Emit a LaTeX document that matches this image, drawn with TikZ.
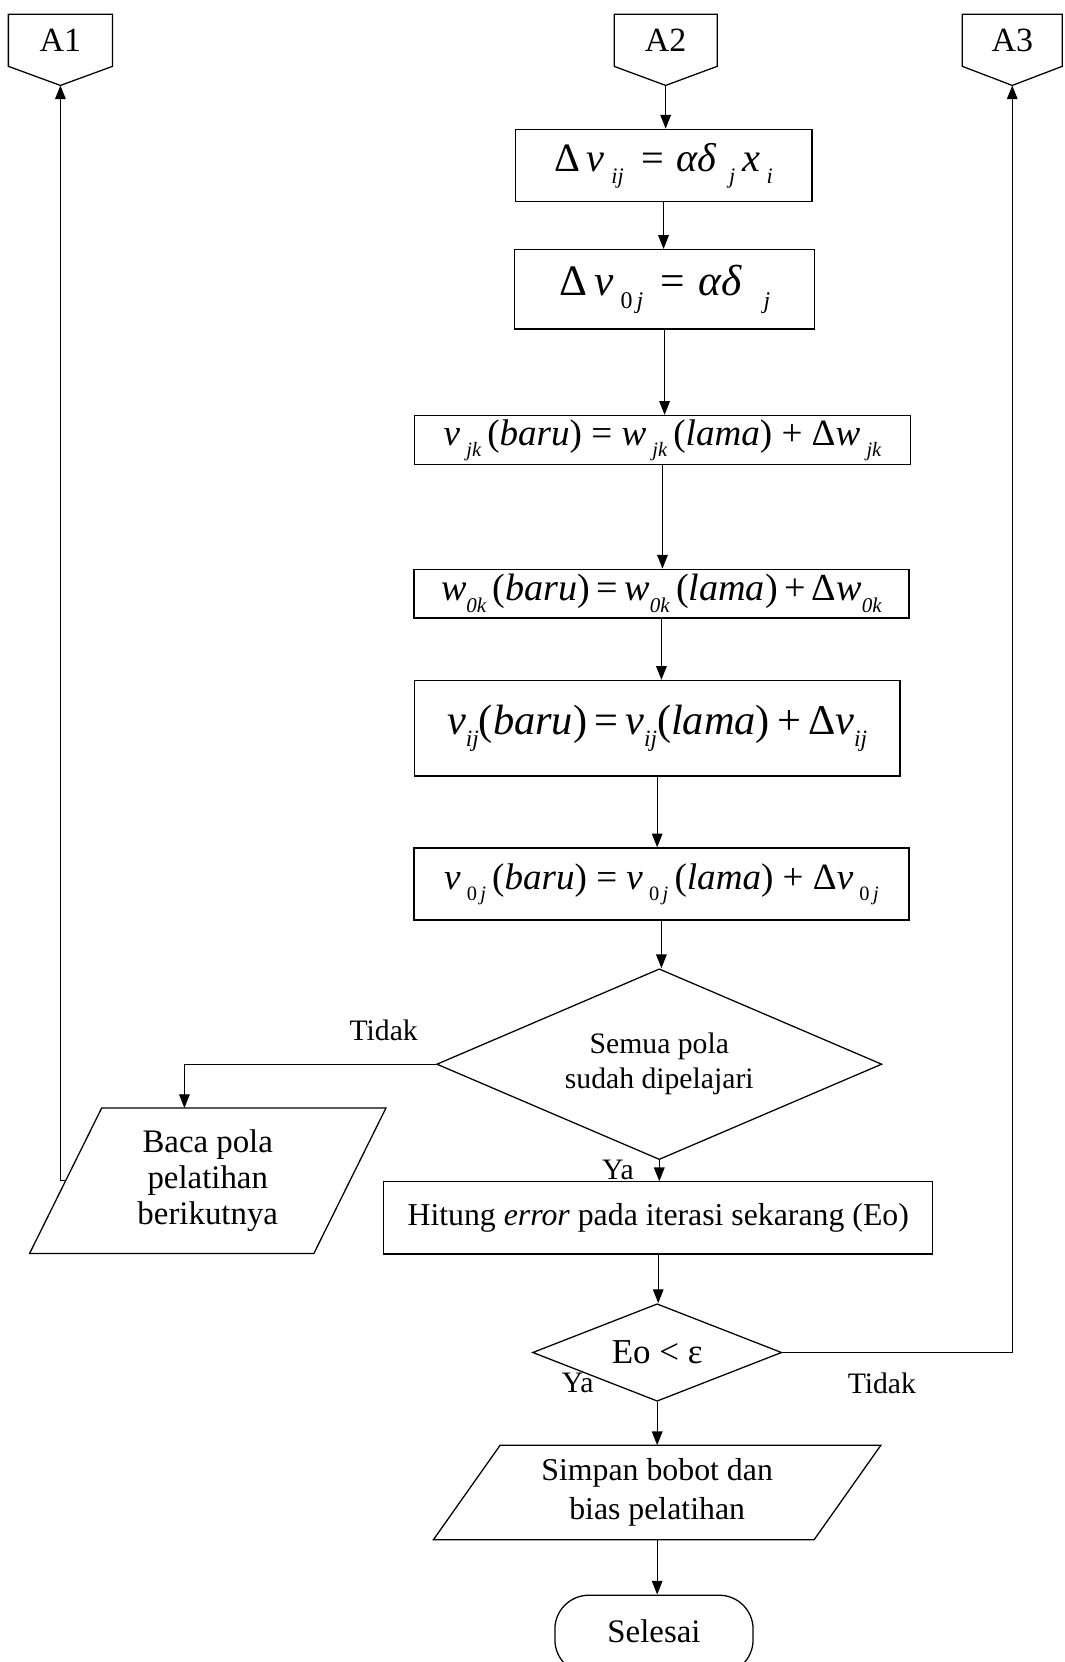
\documentclass[tikz,border=0pt]{standalone}
\usepackage{fontspec}
\setmainfont{Liberation Serif}
\usepackage{graphicx}
\usetikzlibrary{arrows.meta,shapes.geometric,calc}
\newcommand\sbx[1]{\raisebox{-0.3em}{\scalebox{0.55}{\itshape #1}}}
\newcommand\iv[1]{\textit{#1}}
\begin{document}
\begin{tikzpicture}[x=1pt,y=-1pt,
  line width=1.2pt,
  arr/.style={-{Triangle[length=13pt,width=10pt]}},
  pbox/.style={draw, rectangle, inner sep=0pt},
  conn/.style={rectangle, inner sep=0pt, minimum height=48pt, font=\fontsize{32}{34}\selectfont},
  dia/.style={draw, diamond, inner sep=0pt, align=center, font=\fontsize{28}{33}\selectfont},
  paratext/.style={rectangle, inner sep=0pt, align=center},
  lbl/.style={inner sep=0pt, font=\fontsize{28}{32}\selectfont}
]
\useasboundingbox (0,0) rectangle (1004,1568);

% off-page connectors
\node[conn, minimum width=97pt] (a1) at (57,38) {A1};
\coordinate (a1tip) at ($(a1.south)+(0,18)$);
\draw (a1.south east) -- (a1.north east) -- (a1.north west) -- (a1.south west) -- (a1tip) -- cycle;
\node[conn, minimum width=96pt] (a2) at (628,38) {A2};
\coordinate (a2tip) at ($(a2.south)+(0,18)$);
\draw (a2.south east) -- (a2.north east) -- (a2.north west) -- (a2.south west) -- (a2tip) -- cycle;
\node[conn, minimum width=93pt] (a3) at (955,38) {A3};
\coordinate (a3tip) at ($(a3.south)+(0,18)$);
\draw (a3.south east) -- (a3.north east) -- (a3.north west) -- (a3.south west) -- (a3tip) -- cycle;

% process boxes
\node[pbox, minimum width=280pt, minimum height=68pt] (b1) at (626,156)
  {\fontsize{38}{40}\selectfont Δ\,\iv{v}\,\sbx{ij}\hspace{0.45em}=\hspace{0.3em}\iv{αδ}\hspace{0.3em}\sbx{j}\,\iv{x}\,\sbx{i}};
\node[pbox, minimum width=283pt, minimum height=75pt] (b2) at (627,273)
  {\fontsize{41}{44}\selectfont Δ\,\iv{v}\,\sbx{{\upshape 0}\,j}\hspace{0.4em}=\hspace{0.3em}\iv{αδ}\hspace{0.5em}\sbx{j}};
\node[pbox, minimum width=468pt, minimum height=46pt] (b3) at (625,415)
  {\fontsize{35}{38}\selectfont \iv{v}\,\sbx{jk}\,(\iv{baru}) = \iv{w}\,\sbx{jk}\,(\iv{lama}) + Δ\iv{w}\,\sbx{jk}};
\node[pbox, minimum width=467pt, minimum height=46pt] (b4) at (624,560)
  {\fontsize{36}{38}\selectfont \iv{w}\sbx{0k}\,(\iv{baru})\,=\,\iv{w}\sbx{0k}\,(\iv{lama})\,+\,Δ\iv{w}\sbx{0k}};
\node[pbox, minimum width=458pt, minimum height=90pt] (b5) at (620,687)
  {\fontsize{40}{42}\selectfont \iv{v}\sbx{ij}(\iv{baru})\,=\,\iv{v}\sbx{ij}(\iv{lama})\,+\,Δ\iv{v}\sbx{ij}};
\node[pbox, minimum width=467pt, minimum height=68pt] (b6) at (624,834)
  {\fontsize{35}{38}\selectfont \iv{v}\,\sbx{{\upshape 0}\,j}\,(\iv{baru}) = \iv{v}\,\sbx{{\upshape 0}\,j}\,(\iv{lama}) + Δ\iv{v}\,\sbx{{\upshape 0}\,j}};

% decision 1
\node[dia, aspect=2.33, minimum width=420pt, minimum height=180pt] (d1) at (622,1004) {Semua pola\\sudah dipelajari};

% read next pattern (parallelogram)
\node[paratext, minimum width=335pt, minimum height=136pt, font=\fontsize{31}{34}\selectfont] (p1) at (196,1114)
  {Baca pola\\pelatihan\\berikutnya};
\draw (p1.south west) -- ($(p1.north west)+(68,0)$) -- (p1.north east) -- ($(p1.south east)-(68,0)$) -- cycle;
\coordinate (p1l) at ($(p1.west)+(34,0)$);

% compute error
\node[pbox, minimum width=518pt, minimum height=68pt, font=\fontsize{30}{33}\selectfont] (b7) at (621,1149)
  {Hitung \textit{error} pada iterasi sekarang (Eo)};

% decision 2
\node[dia, aspect=2.55, minimum width=235pt, minimum height=92pt, font=\fontsize{33}{35}\selectfont] (d2) at (620,1276) {Eo < ε};

% save (parallelogram)
\node[paratext, minimum width=421pt, minimum height=88pt, font=\fontsize{30}{37}\selectfont] (p2) at (620,1408)
  {Simpan bobot dan\\bias pelatihan};
\draw (p2.south west) -- ($(p2.north west)+(63,0)$) -- (p2.north east) -- ($(p2.south east)-(63,0)$) -- cycle;

% terminal
\node[draw, rectangle, rounded corners=32pt, minimum width=187pt, minimum height=74pt,
      inner sep=0pt, font=\fontsize{31}{34}\selectfont] (s) at (617,1542)
  {\raisebox{7pt}{Selesai}};

% connectors
\draw[arr] (a2tip) -- (a2tip |- b1.north);
\draw[arr] (b1.south) -- (b1.south |- b2.north);
\draw[arr] (b2.south) -- (b2.south |- b3.north);
\draw[arr] (b3.south) -- (b3.south |- b4.north);
\draw[arr] (b4.south) -- (b4.south |- b5.north);
\draw[arr] (b5.south) -- (b5.south |- b6.north);
\draw[arr] (b6.south) -- (b6.south |- d1.north);
\coordinate (tk) at (174,1004);
\draw[arr] (d1.west) -- (tk) -- (tk |- p1.north);
\draw[arr] (p1l) -| (a1tip);
\draw[arr] (d1.south) -- (d1.south |- b7.north);
\draw[arr] (b7.south) -- (b7.south |- d2.north);
\draw[arr] (d2.east) -| (a3tip);
\draw[arr] (d2.south) -- (d2.south |- p2.north);
\draw[arr] (p2.south) -- (p2.south |- s.north);

% labels
\node[lbl] (l1) at (362,972) {Tidak};
\node[lbl] (l2) at (583,1104) {Ya};
\node[lbl] (l3) at (545,1305) {Ya};
\node[lbl] (l4) at (832,1305) {Tidak};
\end{tikzpicture}
\end{document}
